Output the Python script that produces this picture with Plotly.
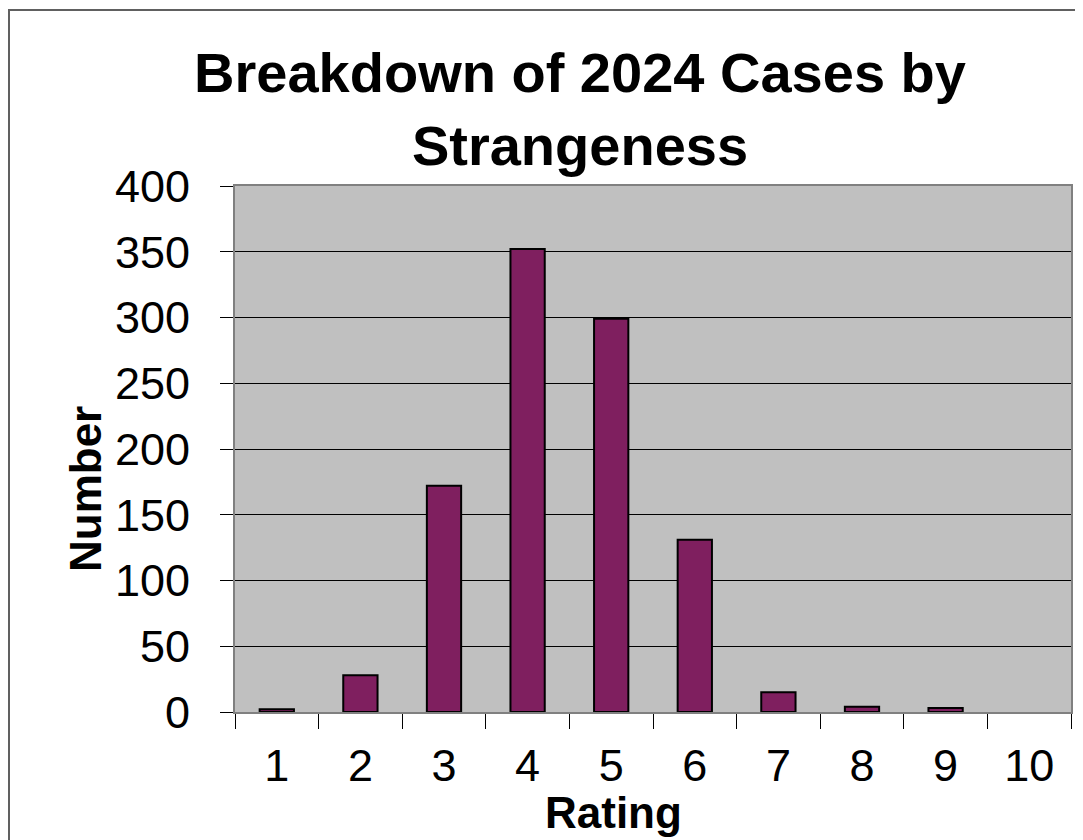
import plotly.graph_objects as go

ratings = ["1", "2", "3", "4", "5", "6", "7", "8", "9", "10"]
counts = [2, 28, 172, 352, 299, 131, 15, 4, 3, 0]
y_ticks = [0, 50, 100, 150, 200, 250, 300, 350, 400]

# page has an 8px body margin; figure sized to fill the rest of the window
OFF = 8
W, H = 1083 - OFF, 840 - OFF
L, R, T, B = 235 - OFF, 12, 186 - OFF, 128
pw, ph = W - L - R, H - T - B

def px(x):  # x in page pixels -> paper
    return (x - OFF - L) / pw

def py(y):  # y in page pixels -> paper
    return (H - B - (y - OFF)) / ph

font = "Liberation Sans, Arial, sans-serif"

# zero-height bars get no outline (as in the reference)
outline_widths = [2 if c > 0 else 0 for c in counts]

fig = go.Figure(go.Bar(
    x=ratings, y=counts,
    marker=dict(color="#7F1F5F", line=dict(color="black", width=outline_widths)),
    width=0.41,
))

fig.update_layout(
    width=W, height=H,
    margin=dict(l=L, r=R, t=T, b=B, autoexpand=False),
    paper_bgcolor="white",
    plot_bgcolor="#C0C0C0",
    showlegend=False,
    font=dict(family=font, color="black"),
    title=dict(
        text="<b>Breakdown of 2024 Cases by<br>Strangeness</b>",
        font=dict(size=56, family=font, color="black"),
        xref="container", x=(580 - OFF) / W, xanchor="center",
        yref="container", y=1 - 84 / H, yanchor="top",
    ),
    xaxis=dict(
        type="category", range=[-0.5, 9.5],
        tickson="boundaries", ticks="outside", ticklen=15, tickwidth=1, tickcolor="black",
        tickfont=dict(size=45, family=font, color="black"),
        ticklabelstandoff=13,
        showline=True, linecolor="#808080", linewidth=2, mirror=True,
        showgrid=False, zeroline=False,
    ),
    yaxis=dict(
        range=[0, 400], tickvals=y_ticks,
        ticks="outside", ticklen=13, tickwidth=1, tickcolor="black",
        tickfont=dict(size=45, family=font, color="black"),
        ticklabelstandoff=21,
        showline=True, linecolor="#808080", linewidth=2, mirror=True,
        showgrid=True, gridcolor="black", gridwidth=1, zeroline=False,
    ),
    annotations=[
        dict(text="<b>Number</b>", textangle=-90, xref="paper", yref="paper",
             x=px(85), y=py(489), xanchor="center", yanchor="middle",
             showarrow=False, font=dict(size=44, family=font, color="black")),
        dict(text="<b>Rating</b>", xref="paper", yref="paper",
             x=px(613), y=py(812), xanchor="center", yanchor="middle",
             showarrow=False, font=dict(size=44, family=font, color="black")),
    ],
    shapes=[
        dict(type="rect", xref="paper", yref="paper",
             x0=px(9), x1=px(1083 + 20), y0=py(840 + 20), y1=py(10),
             line=dict(color="#606060", width=2), fillcolor="rgba(0,0,0,0)", layer="below"),
    ],
)

fig.write_html("out.html")
